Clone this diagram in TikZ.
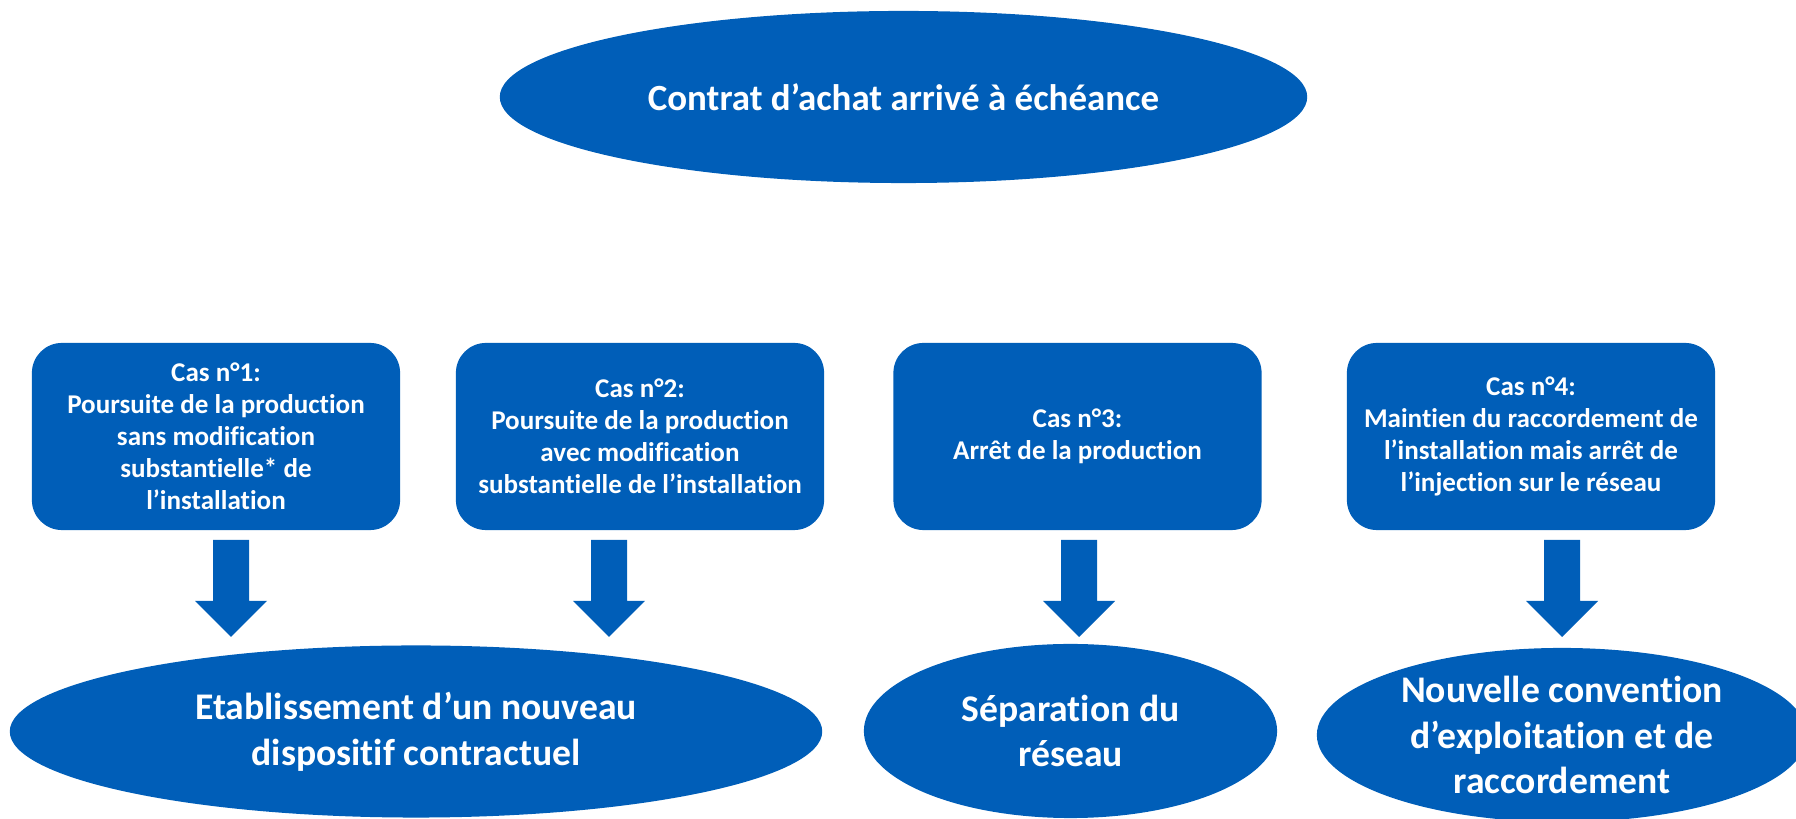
\documentclass[tikz,border=0pt]{standalone}
\usepackage{fontspec}
\setmainfont{Carlito}[Ligatures=NoCommon]
\usetikzlibrary{shapes.geometric}
\definecolor{edfblue}{RGB}{0,94,184}
\tikzset{
  oval/.style={ellipse,fill=edfblue,text=white,inner sep=0pt,align=center,font=\bfseries},
  casebox/.style={rectangle,rounded corners=0.3cm,fill=edfblue,text=white,inner sep=0pt,
    minimum width=3.68cm,minimum height=1.87cm,align=center,font=\fontsize{7.7pt}{9.1pt}\selectfont\bfseries},
  bigarrow/.style={fill=edfblue}
}
\begin{document}
\begin{tikzpicture}[x=0.01cm,y=-0.01cm]
  \useasboundingbox (0,0) rectangle (1796,819);
  % top
  \node[oval,minimum width=8.07cm,minimum height=1.72cm,font=\fontsize{10.5pt}{12.6pt}\selectfont\bfseries] (contrat) at (903.5,97) {Contrat d’achat arrivé à échéance};
  % the four cases
  \node[casebox] (cas1) at (216,436.5) {Cas n°1:\\Poursuite de la production\\sans modification\\substantielle* de\\l’installation};
  \node[casebox] (cas2) at (640,436.5) {Cas n°2:\\Poursuite de la production\\avec modification\\substantielle de l’installation};
  \node[casebox] (cas3) at (1077.5,436.5) {Cas n°3:\\Arrêt de la production};
  \node[casebox] (cas4) at (1531,436.5) {Cas n°4:\\Maintien du raccordement de\\l’installation mais arrêt de\\l’injection sur le réseau};
  % results
  \node[oval,minimum width=8.12cm,minimum height=1.72cm,font=\fontsize{10.7pt}{13pt}\selectfont\bfseries] (dispositif) at (416,731.5) {Etablissement d’un nouveau\\dispositif contractuel};
  \node[oval,minimum width=4.13cm,minimum height=1.74cm,font=\fontsize{10.7pt}{13pt}\selectfont\bfseries] (separation) at (1070.5,731) {Séparation du\\réseau};
  \node[oval,minimum width=4.9cm,minimum height=1.74cm,font=\fontsize{10.7pt}{13pt}\selectfont\bfseries] (convention) at (1562,735) {Nouvelle convention\\d’exploitation et de\\raccordement};
  % block arrows
  \coordinate (a1) at (231,540);
  \coordinate (a2) at (609,540);
  \coordinate (a3) at (1079,540);
  \coordinate (a4) at (1562,540);
  \foreach \a in {a1,a2,a3,a4}
    \fill[bigarrow] (\a) ++(-18,0) -- ++(36,0) -- ++(0,61) -- ++(18,0) -- ++(-36,36) -- ++(-36,-36) -- ++(18,0) -- cycle;
\end{tikzpicture}
\end{document}
